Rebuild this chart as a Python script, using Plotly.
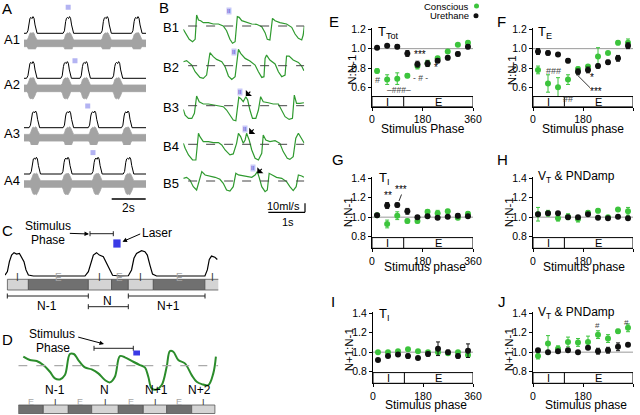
import plotly.graph_objects as go

W, H = 640, 415
FONT = "Liberation Sans, Arial, sans-serif"
GREEN = "#3cc43c"
BLACK = "#111111"
TRACE_GREEN = "#2f9a2f"

# ---------------- data: phase-response panels ----------------
PHASE = [18, 54, 90, 126, 162, 198, 234, 270, 306, 342]
PHASE_TICKS = [0, 180, 360]
IE_SPLIT = 113

E_CONS = [0.77, 0.68, 0.69, 0.72, 0.82, 0.85, 0.90, 0.97, 1.04, 1.06]
E_CONS_ERR = [0.02, 0.05, 0.06, 0.02, 0.03, 0.03, 0.02, 0.01, 0.01, 0.02]
E_URE = [1.01, 1.03, 1.02, 0.95, 0.84, 0.845, 0.875, 0.905, 0.945, 1.02]
E_URE_ERR = [0.01, 0.01, 0.02, 0.03, 0.03, 0.03, 0.02, 0.02, 0.02, 0.02]

F_CONS = [0.78, 0.64, 0.60, 0.68, 0.79, 0.815, 0.92, 0.955, 1.06, 1.06]
F_CONS_ERR = [0.04, 0.09, 0.10, 0.05, 0.02, 0.02, 0.09, 0.01, 0.02, 0.04]
F_URE = [0.97, 0.955, 0.94, 0.875, 0.76, 0.78, 0.82, 0.86, 0.90, 1.03]
F_URE_ERR = [0.03, 0.02, 0.01, 0.02, 0.03, 0.03, 0.02, 0.02, 0.03, 0.03]

G_CONS = [1.02, 0.93, 1.015, 0.96, 0.96, 1.055, 1.04, 1.06, 0.995, 1.035]
G_CONS_ERR = [0.01, 0.04, 0.04, 0.02, 0.02, 0.02, 0.03, 0.02, 0.02, 0.02]
G_URE = [1.02, 1.12, 1.125, 1.06, 1.0, 1.01, 0.995, 1.005, 1.015, 1.01]
G_URE_ERR = [0.01, 0.03, 0.02, 0.03, 0.01, 0.01, 0.01, 0.01, 0.02, 0.01]

H_CONS = [1.03, 1.04, 0.99, 1.005, 0.98, 1.045, 1.065, 1.0, 1.08, 1.06]
H_CONS_ERR = [0.07, 0.03, 0.03, 0.03, 0.03, 0.02, 0.02, 0.01, 0.01, 0.04]
H_URE = [1.03, 1.04, 1.04, 1.0, 1.0, 1.03, 0.995, 0.99, 1.005, 0.99]
H_URE_ERR = [0.01] * 10

I_CONS = [1.0, 1.0, 1.01, 1.03, 1.01, 1.0, 1.0, 0.99, 1.0, 0.97]
I_CONS_ERR = [0.01] * 10
I_URE = [0.92, 0.96, 0.975, 0.96, 0.94, 0.98, 1.035, 1.0, 0.96, 1.015]
I_URE_ERR = [0.01, 0.01, 0.01, 0.02, 0.01, 0.02, 0.07, 0.02, 0.02, 0.07]

J_CONS = [0.96, 1.09, 1.035, 1.105, 1.10, 1.105, 1.18, 1.14, 1.215, 1.25]
J_CONS_ERR = [0.03, 0.08, 0.03, 0.05, 0.04, 0.06, 0.04, 0.04, 0.02, 0.04]
J_URE = [1.02, 1.0, 1.01, 1.02, 1.0, 1.045, 1.01, 1.02, 1.055, 1.075]
J_URE_ERR = [0.01, 0.01, 0.01, 0.01, 0.01, 0.01, 0.03, 0.03, 0.04, 0.01]

# ---------------- data: panel A (integrated + raw nerve activity) ----------------
A_BURST_T = [-0.3, -0.22, -0.15, -0.1, -0.04, 0.02, 0.08, 0.14, 0.2, 0.26, 0.32]   # s from burst centre
A_BURST_A = [0, 0.15, 0.7, 0.9, 0.95, 0.88, 1.0, 0.9, 0.5, 0.12, 0]
A_PEAKS = [[0.45, 2.6, 4.82, 6.63],
           [0.45, 2.47, 3.59, 5.49],
           [0.6, 2.6, 4.08, 6.04],
           [0.65, 2.51, 4.28, 6.14]]
A_LASER_T = [2.6, 3.0, 3.75, 4.06]
A_LASER_H = [1.56, 1.05, 1.3, 1.28]
A_DURATION = 7.18

# ---------------- data: panel B (airflow, ml/s) ----------------
B_T = [
    [0.00, 0.07, 0.16, 0.25, 0.32, 0.36, 0.41, 0.47, 0.54, 0.68, 0.81, 0.95, 1.08, 1.17, 1.26, 1.33, 1.40, 1.46, 1.51, 1.58, 1.71, 1.85, 1.98, 2.12, 2.21, 2.27, 2.34, 2.39, 2.41, 2.48, 2.61, 2.79, 2.93, 3.02, 3.11, 3.20, 3.24, 3.27],
    [0.00, 0.09, 0.23, 0.32, 0.45, 0.54, 0.63, 0.68, 0.72, 0.81, 0.90, 1.04, 1.13, 1.22, 1.31, 1.40, 1.46, 1.49, 1.55, 1.67, 1.80, 1.94, 2.03, 2.12, 2.18, 2.21, 2.25, 2.34, 2.48, 2.57, 2.66, 2.75, 2.79, 2.86, 2.97, 3.11, 3.20, 3.26],
    [0.00, 0.05, 0.14, 0.23, 0.30, 0.36, 0.43, 0.54, 0.68, 0.81, 0.95, 1.08, 1.17, 1.26, 1.35, 1.42, 1.46, 1.50, 1.55, 1.62, 1.69, 1.74, 1.80, 1.87, 1.96, 2.03, 2.09, 2.16, 2.30, 2.43, 2.57, 2.66, 2.75, 2.86, 2.95, 3.00, 3.06, 3.15, 3.26],
    [0.00, 0.05, 0.14, 0.25, 0.34, 0.41, 0.45, 0.54, 0.68, 0.81, 0.95, 1.04, 1.13, 1.26, 1.35, 1.44, 1.49, 1.55, 1.62, 1.67, 1.71, 1.78, 1.85, 1.94, 2.03, 2.12, 2.16, 2.23, 2.34, 2.48, 2.61, 2.70, 2.81, 2.88, 2.97, 3.04, 3.11, 3.20, 3.27],
    [0.00, 0.09, 0.18, 0.27, 0.36, 0.43, 0.50, 0.59, 0.72, 0.86, 0.99, 1.08, 1.17, 1.26, 1.35, 1.42, 1.49, 1.62, 1.76, 1.85, 1.94, 2.00, 2.05, 2.12, 2.21, 2.27, 2.32, 2.39, 2.52, 2.66, 2.79, 2.88, 2.97, 3.05, 3.11, 3.20, 3.26],
]
B_FLOW = [
    [-3.7, -8.1, -14.8, -17.4, -14.8, 12.2, 6.7, 5.9, 3.7, 3.7, 2.2, 2.2, 0, -5.2, -14.8, -19.2, -17.4, 10.4, 9.6, 5.9, 3.7, 2.2, 1.9, -0.7, -7.4, -14.8, -15.5, 1.1, 8.5, 5.9, 3.7, 2.2, -1.5, -8.9, -13.7, -15.5, -10.0, 0],
    [4.4, 5.6, 0.7, -6.7, -13.0, -14.1, -10.4, 6.3, 14.4, 10.0, 7.0, 4.4, -1.1, -11.5, -15.2, -12.2, 11.8, 18.1, 13.7, 8.1, 5.2, 0.7, -6.7, -13.0, -12.2, 8.1, 11.8, 6.3, 1.9, -6.7, -12.2, -10.4, 10.7, 10.7, 6.3, 3.7, -0.4, -5.6],
    [-4.1, -10.4, -14.1, -14.1, -8.5, 10.7, 4.4, 1.9, 1.9, 0.7, -0.4, -1.1, -4.8, -10.4, -15.9, -16.7, -4.8, 9.3, 8.1, 4.4, 10.0, 6.3, -4.8, -14.1, -14.1, -4.8, 10.0, 4.4, 3.3, 1.9, 1.9, -4.8, -12.2, -15.2, -14.1, 11.8, 2.6, 2.6, 3.3],
    [1.1, -4.4, -11.8, -17.4, -17.4, 12.2, 8.5, 3.0, 3.0, 1.9, 1.9, -0.7, -6.3, -11.8, -10.7, 1.1, 12.2, 8.5, 1.1, 4.8, 12.2, 4.8, -6.3, -15.5, -17.4, -10.0, 10.4, 4.8, 3.0, 4.1, 1.1, -8.1, -15.5, -16.7, -13.7, 6.7, 12.2, 5.6, 1.1],
    [3.0, 4.1, 1.1, -6.3, -10.0, 0.4, 10.4, 6.7, 5.6, 4.1, 1.9, -2.6, -10.0, -11.1, -6.3, 8.5, 6.7, 5.6, 4.1, 4.1, 6.7, 10.4, 4.1, -6.3, -11.8, -10.0, 8.5, 6.7, 4.1, 3.0, -0.7, -6.3, -10.7, -6.3, 6.7, 5.6, 4.1],
]
B_LASER_T = [1.23, 1.37, 1.53, 1.67, 1.89]
B_LASER_F = [17.0, 14.9, 15.5, 16.7, 14.8]
B_ARROW_T = [None, None, 1.69, 1.78, 2.00]
B_ARROW_F = [None, None, 10.7, 11.5, 8.5]

# ---------------- data: panel C (integrated activity, schematic) ----------------
C_T = [0, 0.12, 0.22, 0.33, 0.45, 0.58, 0.72, 0.83, 0.95, 1.05, 1.17, 1.42, 2.25, 3.08, 4.0, 4.17, 4.28, 4.42, 4.58, 4.72, 4.92, 5.08, 5.25, 5.38, 5.75, 6.17, 6.33, 6.45, 6.58, 6.83, 7.0, 7.12, 7.25, 7.38, 7.58, 8.42, 9.75, 10.0, 10.12, 10.22, 10.33, 10.5, 10.62]
C_A = [0.04, 0.18, 0.59, 0.86, 0.96, 0.90, 0.93, 0.79, 0.59, 0.25, 0.04, 0, 0, -0.01, 0, 0.18, 0.52, 0.86, 0.96, 0.86, 0.79, 0.52, 0.18, 0.03, 0, 0.01, 0.25, 0.73, 0.93, 1.04, 1.0, 0.86, 0.45, 0.08, 0, -0.01, -0.01, 0, 0.25, 0.68, 0.82, 0.77, 0.68]
C_PHASES = ["I", "E", "I", "E", "I", "E", "I"]
C_PHASE_EDGES = [0.12, 1.17, 4.17, 5.33, 6.17, 7.42, 10.0, 10.8]

# ---------------- data: panel D (airflow, schematic) ----------------
D_T = [0.25, 0.58, 0.92, 1.25, 1.58, 1.83, 2.08, 2.33, 2.58, 2.78, 3.0, 3.33, 3.67, 4.0, 4.33, 4.58, 4.83, 5.08, 5.33, 5.75, 6.08, 6.33, 6.5, 6.67, 6.92, 7.17, 7.42, 7.58, 7.75, 8.0, 8.33, 8.67, 8.92, 9.17, 9.5, 9.75, 9.88]
D_F = [10.0, 6.3, 5.2, 0.7, -6.7, -14.1, -15.2, -10.4, 13.0, 13.0, 6.3, -1.9, -4.1, -8.5, -15.9, -18.5, -12.2, 10.7, 9.3, 4.4, 0.7, -1.9, -12.2, -25.2, -26.3, -21.5, -1.1, 16.3, 15.5, 6.3, 2.6, -10.4, -17.8, -20.4, -21.5, -8.5, 10.0]
D_PHASES = ["E", "I", "E", "I", "E", "I", "E", "I"]
D_PHASE_EDGES = [0, 1.25, 2.5, 3.67, 5.0, 6.25, 7.42, 8.67, 9.83]
D_CYCLES = ["N-1", "N", "N+1", "N+2"]
D_CYCLE_T = [1.83, 4.33, 6.92, 9.08]


def px(x):
    return x / W


def py(y):
    return 1 - y / H


fig = go.Figure()
layout = {}
annotations = []
shapes = []
counter = [0]


def add_axes(x0, x1, y0, y1, xr, yr):
    counter[0] += 1
    k = counter[0]
    s = "" if k == 1 else str(k)
    layout["xaxis" + s] = dict(domain=[px(x0), px(x1)], range=xr, anchor="y" + s,
                               visible=False, showgrid=False, zeroline=False)
    layout["yaxis" + s] = dict(domain=[py(y1), py(y0)], range=yr, anchor="x" + s,
                               visible=False, showgrid=False, zeroline=False)
    return "x" + s, "y" + s


def txt(x, y, s, size=12, color="black", xanchor="center", yanchor="middle", angle=0):
    annotations.append(dict(x=px(x), y=py(y), xref="paper", yref="paper", text=s,
                            showarrow=False, textangle=angle,
                            font=dict(size=size, color=color, family=FONT),
                            xanchor=xanchor, yanchor=yanchor))


def pline(x0, y0, x1, y1, color="black", width=1, dash=None):
    ln = dict(color=color, width=width)
    if dash:
        ln["dash"] = dash
    shapes.append(dict(type="line", xref="paper", yref="paper",
                       x0=px(x0), y0=py(y0), x1=px(x1), y1=py(y1), line=ln))


def parrow(x0, y0, x1, y1):
    annotations.append(dict(x=px(x1), y=py(y1), xref="paper", yref="paper",
                            ax=x0 - x1, ay=y0 - y1, axref="pixel", ayref="pixel",
                            showarrow=True, arrowhead=2, arrowsize=0.9, arrowwidth=1,
                            arrowcolor="black", text=""))


def bracket(x0, x1, y, h=2.5, color="#222"):
    pline(x0, y, x1, y, color)
    pline(x0, y - h, x0, y + h, color)
    pline(x1, y - h, x1, y + h, color)


# ---------------- data panels E-J ----------------
def data_panel(x0, x1, ybot, ylo, yhi, scale, ytick, cons, cons_err, ure, ure_err, bar_top):
    ytop = ybot - (yhi - ylo) * scale
    xa, ya = add_axes(x0, x1, ytop, ybot, [0, 360], [ylo, yhi])
    ax_style = dict(visible=True, showline=True, linecolor="black", linewidth=1,
                    ticks="outside", ticklen=3, tickcolor="black", tickwidth=1,
                    tickfont=dict(size=10.5, color="black", family=FONT))
    layout["xaxis" + xa[1:]].update(ax_style, tickvals=PHASE_TICKS)
    layout["yaxis" + ya[1:]].update(ax_style, tickvals=ytick, tickformat=".1f")
    shapes.append(dict(type="line", xref=xa, yref=ya, x0=0, x1=360, y0=1.0, y1=1.0,
                       line=dict(color="#9a9a9a", width=1), layer="below"))
    shapes.append(dict(type="rect", xref=xa, yref=ya, x0=0, x1=360, y0=ylo, y1=bar_top,
                       line=dict(color="black", width=1), fillcolor="white"))
    shapes.append(dict(type="line", xref=xa, yref=ya, x0=IE_SPLIT, x1=IE_SPLIT, y0=ylo, y1=bar_top,
                       line=dict(color="black", width=1)))
    for lab, xv in (("I", IE_SPLIT / 2), ("E", (IE_SPLIT + 360) / 2)):
        annotations.append(dict(x=xv, y=(ylo + bar_top) / 2, xref=xa, yref=ya, text=lab,
                                showarrow=False, font=dict(size=11, color="black", family=FONT)))
    fig.add_trace(go.Scatter(x=PHASE, y=cons, mode="markers", xaxis=xa, yaxis=ya, cliponaxis=False,
                             marker=dict(color=GREEN, size=6),
                             error_y=dict(type="data", array=cons_err, color=GREEN, thickness=1, width=2),
                             showlegend=False))
    fig.add_trace(go.Scatter(x=PHASE, y=ure, mode="markers", xaxis=xa, yaxis=ya, cliponaxis=False,
                             marker=dict(color=BLACK, size=6),
                             error_y=dict(type="data", array=ure_err, color=BLACK, thickness=1, width=2),
                             showlegend=False))


data_panel(372, 473, 106.7, 0.4, 1.21, 96.75, [0.6, 0.8, 1.0, 1.2], E_CONS, E_CONS_ERR, E_URE, E_URE_ERR, 0.505)
data_panel(533, 633, 106.7, 0.4, 1.21, 96.75, [0.6, 0.8, 1.0, 1.2], F_CONS, F_CONS_ERR, F_URE, F_URE_ERR, 0.505)
data_panel(372, 473, 248.3, 0.68, 1.41, 97.3, [0.8, 1.0, 1.2, 1.4], G_CONS, G_CONS_ERR, G_URE, G_URE_ERR, 0.79)
data_panel(533, 633, 248.3, 0.68, 1.41, 97.3, [0.8, 1.0, 1.2, 1.4], H_CONS, H_CONS_ERR, H_URE, H_URE_ERR, 0.79)
data_panel(373, 473, 383.3, 0.68, 1.41, 97.3, [0.8, 1.0, 1.2, 1.4], I_CONS, I_CONS_ERR, I_URE, I_URE_ERR, 0.79)
data_panel(533, 633, 383.3, 0.68, 1.41, 97.3, [0.8, 1.0, 1.2, 1.4], J_CONS, J_CONS_ERR, J_URE, J_URE_ERR, 0.79)

# panel titles / labels for E-J
for letter, x, y in (("E", 334, 21), ("F", 501, 21), ("G", 338, 159), ("H", 502, 159), ("I", 333, 301), ("J", 502, 301)):
    txt(x, y, letter, size=15)
txt(376, 32, "T<sub>Tot</sub>", size=13, xanchor="left")
txt(536, 32, "T<sub>E</sub>", size=13, xanchor="left")
txt(377, 178, "T<sub>I</sub>", size=13, xanchor="left")
txt(536, 177, "V<sub>T</sub> & PNDamp", size=12, xanchor="left")
txt(377, 314, "T<sub>I</sub>", size=13, xanchor="left")
txt(536, 313, "V<sub>T</sub> & PNDamp", size=12, xanchor="left")
txt(423, 129, "Stimulus Phase", size=12)
txt(583, 129, "Stimulus phase", size=12)
txt(425, 267, "Stimulus phase", size=12)
txt(584, 267, "Stimulus phase", size=12)
txt(426, 405, "Stimulus phase", size=12)
txt(586, 405, "Stimulus phase", size=12)
txt(351.7, 70, "N:N-1", size=11.5, angle=-90)
txt(512.3, 70, "N:N-1", size=11.5, angle=-90)
txt(348.3, 212, "N:N-1", size=11.5, angle=-90)
txt(509.3, 212, "N:N-1", size=11.5, angle=-90)
txt(349.3, 350, "N+1:N-1", size=11.5, angle=-90)
txt(509.3, 350, "N+1:N-1", size=11.5, angle=-90)

# legend
txt(471, 6, "Conscious", size=9.5, xanchor="right")
txt(471, 15.7, "Urethane", size=9.5, xanchor="right")
shapes.append(dict(type="circle", xref="paper", yref="paper", x0=px(474), x1=px(479), y0=py(8.5), y1=py(3.5),
                   fillcolor=GREEN, line=dict(width=0)))
shapes.append(dict(type="circle", xref="paper", yref="paper", x0=px(473.5), x1=px(478.5), y0=py(18.2), y1=py(13.2),
                   fillcolor=BLACK, line=dict(width=0)))

# significance marks
STAT = "#444"
txt(377, 80, "#", size=9, color=STAT)
txt(420, 55, "***", size=10)
txt(436, 68, "*", size=10)
txt(420, 77.5, "- # -", size=8.5, color=STAT)
txt(399, 90, "–###–", size=8.5, color=STAT)
txt(553, 71, "###", size=9, color=STAT)
txt(567.5, 98.7, "##", size=9, color=STAT)
txt(592, 77.5, "*", size=10)
txt(596, 92, "***", size=10)
pline(577.3, 75, 590, 87.7, color="#333")
txt(388.3, 196, "**", size=10)
txt(401, 189.5, "***", size=10)
pline(399, 201, 401.5, 194.5, color="#333")
txt(597, 325, "#", size=8, color=STAT)
txt(626, 322, "#", size=8, color=STAT)

# ---------------- panel A ----------------
txt(7, 8.5, "A", size=15)
A_BASE = [33.3, 78.3, 127.7, 174.0]
for i in range(4):
    base = A_BASE[i]
    xa, ya = add_axes(24, 146, base - 29, base + 22, [0, A_DURATION], [-22 / 16.7, 29 / 16.7])
    ts, amps = [0.0], [0.0]
    for c in A_PEAKS[i]:
        for dt, a in zip(A_BURST_T, A_BURST_A):
            t = c + dt
            if 0 < t < A_DURATION:
                ts.append(t)
                amps.append(a)
    ts.append(A_DURATION)
    amps.append(0.0)
    gc = -0.6
    upper = [gc + 0.2 + 0.45 * a for a in amps]
    lower = [gc - 0.2 - 0.45 * a for a in amps]
    fig.add_trace(go.Scatter(x=ts + ts[::-1], y=upper + lower[::-1], fill="toself", mode="lines",
                             fillcolor="#a3a3a3", line=dict(color="#a3a3a3", width=0.8),
                             xaxis=xa, yaxis=ya, showlegend=False, hoverinfo="skip"))
    fig.add_trace(go.Scatter(x=ts, y=amps, mode="lines", line=dict(color="black", width=1),
                             xaxis=xa, yaxis=ya, showlegend=False))
    fig.add_trace(go.Scatter(x=[A_LASER_T[i]], y=[A_LASER_H[i]], mode="markers",
                             marker=dict(symbol="square", size=5, color="#b3b3f2"),
                             xaxis=xa, yaxis=ya, showlegend=False, cliponaxis=False))
    txt(12, base + 6 if i else 39, "A%d" % (i + 1), size=13)
pline(111.7, 199, 145.7, 199, width=1.5)
txt(128.3, 208.5, "2s", size=12)

# ---------------- panel B ----------------
txt(163.5, 7.5, "B", size=15)
B_BASE = [26.0, 65.7, 105.7, 144.3, 181.0]
for i in range(5):
    base = B_BASE[i]
    xa, ya = add_axes(183.3, 304.3, base - 20, base + 20, [0, 3.27], [-22.2, 22.2])
    shapes.append(dict(type="line", xref=xa, yref=ya, x0=0.13, x1=3.27, y0=0, y1=0,
                       line=dict(color="#444", width=1, dash="dash")))
    fig.add_trace(go.Scatter(x=B_T[i], y=B_FLOW[i], mode="lines", line=dict(color=TRACE_GREEN, width=1.2),
                             xaxis=xa, yaxis=ya, showlegend=False, cliponaxis=False))
    annotations.append(dict(x=B_LASER_T[i], y=B_LASER_F[i], xref=xa, yref=ya, text="II",
                            showarrow=False, bgcolor="#c9c9f7", borderpad=0,
                            font=dict(size=6, color="#4444cc", family=FONT)))
    if B_ARROW_T[i] is not None:
        annotations.append(dict(x=B_ARROW_T[i], y=B_ARROW_F[i], xref=xa, yref=ya, ax=6, ay=-6,
                                axref="pixel", ayref="pixel", showarrow=True, arrowhead=1,
                                arrowsize=1.2, arrowwidth=1.2, arrowcolor="black", text=""))
    txt(170.5, base + 2, "B%d" % (i + 1), size=13)
txt(283.5, 206.5, "10ml/s", size=11)
pline(305, 203.3, 305, 212.3, width=1.2)
pline(268.3, 212.3, 305, 212.3, width=1.2)
txt(288.3, 221.7, "1s", size=11)

# ---------------- panel C ----------------
txt(7, 230, "C", size=15)
txt(48.3, 226, "Stimulus", size=12)
txt(48.3, 239.5, "Phase", size=12)
parrow(68.3, 233.3, 89, 234)
bracket(90, 113.3, 233.7)
shapes.append(dict(type="rect", xref="paper", yref="paper", x0=px(113.3), x1=px(120.6), y0=py(247.6), y1=py(239.4),
                   fillcolor="#3a3ae6", line=dict(width=0)))
txt(157, 233.3, "Laser", size=12)
parrow(141.7, 233.3, 122.5, 241.7)
xc, yc = add_axes(5, 218.3, 246, 280, [0, 10.67], [-4 / 24.3, 30 / 24.3])
fig.add_trace(go.Scatter(x=C_T, y=C_A, mode="lines", line=dict(color="black", width=1.2),
                         xaxis=xc, yaxis=yc, showlegend=False))
for k, lab in enumerate(C_PHASES):
    dark = lab == "E"
    shapes.append(dict(type="rect", xref=xc, yref="paper", x0=C_PHASE_EDGES[k], x1=C_PHASE_EDGES[k + 1],
                       y0=py(290), y1=py(279.3), fillcolor="#707070" if dark else "#d4d4d4",
                       line=dict(color="#555", width=0.8)))
    annotations.append(dict(x=(C_PHASE_EDGES[k] + C_PHASE_EDGES[k + 1]) / 2, y=py(284.7), xref=xc, yref="paper",
                            text=lab, showarrow=False,
                            font=dict(size=10, color="#a5a5a5" if dark else "#333", family=FONT)))
bracket(7.3, 88.3, 296)
bracket(88.3, 128.3, 306.7)
bracket(128.3, 205, 296)
txt(46.7, 306, "N-1", size=12)
txt(107.3, 300.5, "N", size=12)
txt(168.3, 306, "N+1", size=12)

# ---------------- panel D ----------------
txt(7.3, 339.3, "D", size=15)
txt(51.7, 334.3, "Stimulus", size=12)
txt(53.3, 348.3, "Phase", size=12)
parrow(76.7, 336.7, 104, 344)
bracket(94, 133.3, 348.3)
shapes.append(dict(type="rect", xref="paper", yref="paper", x0=px(133.3), x1=px(140), y0=py(355.5), y1=py(350.5),
                   fillcolor="#3a3ae6", line=dict(width=0)))
xd, yd = add_axes(18.3, 218.3, 335, 395, [0, 10], [-32.5, 34.1])
shapes.append(dict(type="line", xref=xd, yref=yd, x0=0, x1=10, y0=0, y1=0,
                   line=dict(color="#aaaaaa", width=1.2, dash="dash")))
fig.add_trace(go.Scatter(x=D_T, y=D_F, mode="lines", line=dict(color="#2b8c2b", width=2, shape="spline"),
                         xaxis=xd, yaxis=yd, showlegend=False))
for lab, t in zip(D_CYCLES, D_CYCLE_T):
    annotations.append(dict(x=t, y=py(398.5), xref=xd, yref="paper", text=lab, showarrow=False,
                            font=dict(size=12, color="black", family=FONT)))
for k, lab in enumerate(D_PHASES):
    dark = lab == "E"
    shapes.append(dict(type="rect", xref=xd, yref="paper", x0=D_PHASE_EDGES[k], x1=D_PHASE_EDGES[k + 1],
                       y0=py(413.5), y1=py(405), fillcolor="#707070" if dark else "#d4d4d4",
                       line=dict(color="#555", width=0.8)))
    annotations.append(dict(x=(D_PHASE_EDGES[k] + D_PHASE_EDGES[k + 1]) / 2, y=py(409.3), xref=xd, yref="paper",
                            text=lab, showarrow=False,
                            font=dict(size=9, color="#a5a5a5" if dark else "#333", family=FONT)))

layout.update(width=W, height=H, margin=dict(l=0, r=0, t=0, b=0, pad=0, autoexpand=False),
              paper_bgcolor="white", plot_bgcolor="white",
              font=dict(family=FONT, color="black"),
              annotations=annotations, shapes=shapes, showlegend=False)
fig.update_layout(**layout)
fig.write_html("out.html", config={"displayModeBar": False},
               post_script="document.body.style.margin='0';document.body.style.padding='0';")
